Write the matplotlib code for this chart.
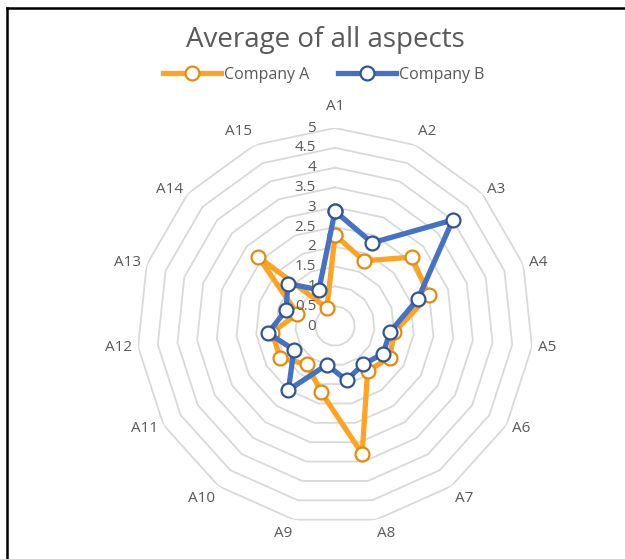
import numpy as np
import matplotlib
matplotlib.use("Agg")
import matplotlib.pyplot as plt
from matplotlib.lines import Line2D

plt.rcParams['font.family'] = ['Open Sans', 'DejaVu Sans']

# Data
aspects = ["A%d" % i for i in range(1, 16)]
company_a = [2.3, 1.8, 2.6, 2.5, 1.5, 1.6, 1.4, 3.3, 1.7, 1.2, 1.6, 1.6, 1.0, 2.6, 0.5]
company_b = [2.9, 2.3, 4.0, 2.2, 1.4, 1.4, 1.2, 1.4, 1.0, 2.0, 1.2, 1.7, 1.3, 1.6, 1.0]
levels = [0.5, 1, 1.5, 2, 2.5, 3, 3.5, 4, 4.5, 5]
level_labels = ["0", "0.5", "1", "1.5", "2", "2.5", "3", "3.5", "4", "4.5", "5"]

orange = "#FFA323"
orange_edge = "#E58A0C"
blue = "#4472C4"
blue_edge = "#2F5597"
text_gray = "#595959"
grid_gray = "#D9D9D9"

W, H = 625, 559
fig = plt.figure(figsize=(W / 100, H / 100), dpi=100)

# polar axes centred at (335, 326) px, radius 198 px for value 5
cx, cy, R = 335, 326, 198
ax = fig.add_axes([(cx - R) / W, (H - cy - R) / H, 2 * R / W, 2 * R / H],
                  projection="polar")
ax.set_theta_zero_location("N")
ax.set_theta_direction(-1)
ax.set_ylim(0, 5)
ax.axis("off")

n = len(aspects)
angles = np.linspace(0, 2 * np.pi, n, endpoint=False)
closed = np.append(angles, angles[0])

# polygon grid rings
for lv in levels:
    ax.plot(closed, [lv] * (n + 1), color=grid_gray, lw=1.3, zorder=1)

# value labels along the A1 axis, right-aligned just left of it
for i, lab in enumerate(level_labels):
    x, y = ax.transData.transform((0, i * 0.5))
    fig.text((x - 19) / W, y / H, lab, fontsize=11, color=text_gray,
             ha="right", va="center")

# category labels, anchored Excel-style just outside the outer ring
for ang, lab in zip(angles, aspects):
    s, c = np.sin(ang), np.cos(ang)
    ha = "left" if s > 0.05 else ("right" if s < -0.05 else "center")
    va = "bottom" if c > 0.75 else ("top" if c < -0.75 else "center")
    pad = 10 if c > 0.99 else 4.5
    ax.annotate(lab, xy=(ang, 5), xytext=(pad * s, pad * c),
                textcoords="offset points", fontsize=11, color=text_gray,
                ha=ha, va=va)

for vals, col, edge, name in [(company_a, orange, orange_edge, "Company A"),
                              (company_b, blue, blue_edge, "Company B")]:
    v = np.append(vals, vals[0])
    ax.plot(closed, v, color=col, lw=3.8, marker="o", markersize=10,
            markerfacecolor="white", markeredgecolor=edge,
            markeredgewidth=1.6, label=name, zorder=3, clip_on=False)

fig.text(0.52, 1 - 40 / H, "Average of all aspects", fontsize=20,
         color=text_gray, ha="center", va="center")

handles, labels = ax.get_legend_handles_labels()
fig.legend(handles, labels, loc="center", bbox_to_anchor=(0.518, 1 - 75 / H),
           ncol=2, frameon=False, fontsize=11.5, handlelength=3.6,
           columnspacing=1.8, handletextpad=0.2, labelcolor=text_gray)

# chart border (top and left edges visible)
fig.add_artist(Line2D([7 / W, 1], [1 - 8 / H, 1 - 8 / H], color="black", lw=1.8))
fig.add_artist(Line2D([7 / W, 7 / W], [0, 1 - 8 / H], color="black", lw=1.8))

fig.savefig("out.png", dpi=100)
